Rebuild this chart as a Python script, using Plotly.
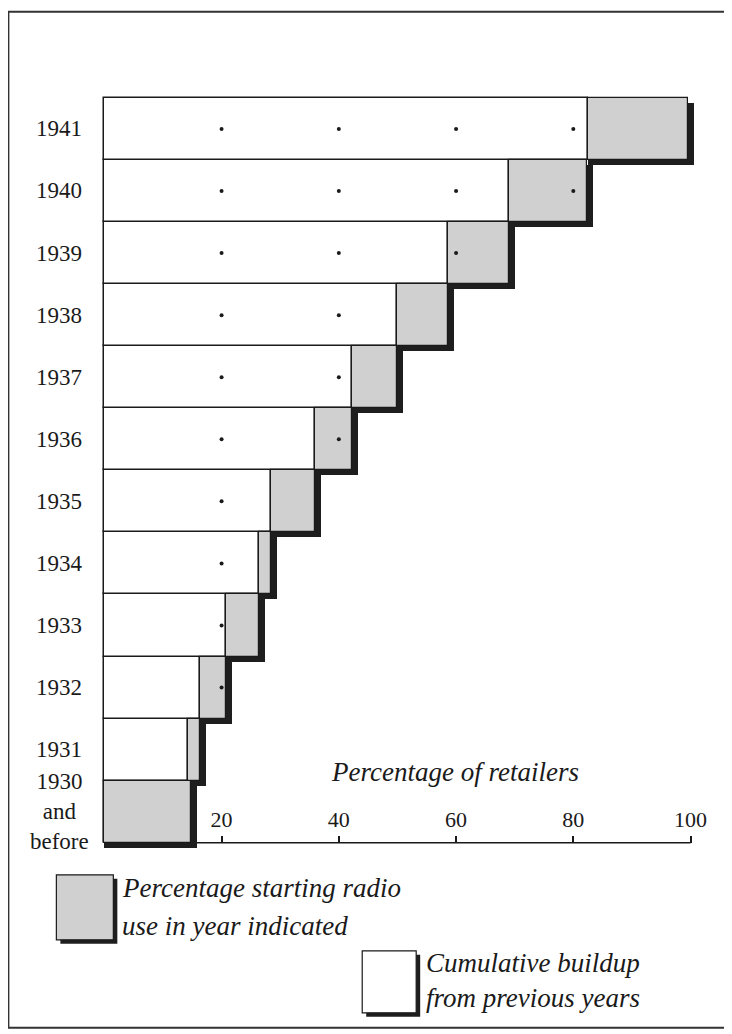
import plotly.graph_objects as go

# years, bottom to top
years = ['1930', '1931', '1932', '1933', '1934', '1935',
         '1936', '1937', '1938', '1939', '1940', '1941']
year_labels = ['1930<br>and<br>before', '1931', '1932', '1933', '1934', '1935',
               '1936', '1937', '1938', '1939', '1940', '1941']
# cumulative share of retailers already using radio before the year (white)
prior = [0, 14.2, 16.3, 20.7, 26.3, 28.5, 35.9, 42.3, 50.0, 58.7, 69.1, 82.5]
# share starting radio use in that year (grey)
new = [14.8, 2.1, 4.4, 5.6, 2.2, 7.4, 6.4, 7.7, 8.7, 10.4, 13.3, 17.0]
grid_ticks = [20, 40, 60, 80]
x_ticks = [20, 40, 60, 80, 100]

# page is shown with the browser's 8px body margin, so work in window pixels
OFF = 8
W, H = 732 - OFF, 1034 - OFF
X0PIX, SCALE = 104, 5.865      # window pixel of x=0, pixels per percent
YTOP, ROW = 98, 62.08          # window pixel of top of 1941 row, row height
XMIN, XMAX = -0.4, 104
YMIN, YMAX = -0.6, 11.53

LEFT = X0PIX + XMIN * SCALE - OFF
RIGHT = W - (X0PIX + XMAX * SCALE - OFF)
TOP = YTOP - (YMAX - 11.5) * ROW - OFF
BOTTOM = H - (YTOP + (11.5 - YMIN) * ROW - OFF)

FONT = 'Liberation Serif'
GREY = '#d0d0d0'
SHADOW = '#1e1e1e'
INK = '#1a1a1a'


def px(x):
    return (x - OFF - LEFT) / (W - LEFT - RIGHT)


def py(y):
    return (H - BOTTOM - (y - OFF)) / (H - TOP - BOTTOM)


shift = 6 / SCALE  # ~6px drop shadow in data units

fig = go.Figure()

fig.add_trace(go.Bar(
    y=years, x=[n + shift for n in new], base=prior, orientation='h',
    width=1, offset=-0.58, marker=dict(color=SHADOW, line=dict(width=0)),
    hoverinfo='skip', showlegend=False,
))
fig.add_trace(go.Bar(
    y=years, x=prior, base=0, orientation='h', width=1,
    marker=dict(color='white', line=dict(color=INK, width=1.5)),
    showlegend=False,
))
fig.add_trace(go.Bar(
    y=years, x=new, base=prior, orientation='h', width=1,
    marker=dict(color=GREY, line=dict(color=INK, width=1.2)),
    showlegend=False,
))

# dotted grid points inside the bars
dot_x, dot_y = [], []
for yr, p, n in zip(years, prior, new):
    for t in grid_ticks:
        if p + n >= t:
            dot_x.append(t)
            dot_y.append(yr)
fig.add_trace(go.Scatter(
    x=dot_x, y=dot_y, mode='markers',
    marker=dict(size=4, color=INK), hoverinfo='skip', showlegend=False,
))

# year labels, centred like the original
for i, lab in enumerate(year_labels):
    fig.add_annotation(
        x=px(59), xref='paper', y=i, yref='y', text=lab, showarrow=False,
        xanchor='center', yanchor='middle', align='center',
        font=dict(family=FONT, size=23, color=INK),
    )

fig.add_annotation(
    x=px(455), y=py(772), xref='paper', yref='paper',
    text='<i>Percentage of retailers</i>', showarrow=False,
    xanchor='center', yanchor='middle',
    font=dict(family=FONT, size=27, color=INK),
)

# axis baseline
fig.add_shape(type='line', x0=0, x1=100, y0=-0.5, y1=-0.5, xref='x', yref='y',
              line=dict(color=INK, width=1.5), layer='below')


# legend keys
def key_box(x0, y0, x1, y1, fill):
    fig.add_shape(type='rect', xref='paper', yref='paper',
                  x0=px(x0 + 4), x1=px(x1 + 4), y0=py(y0 + 4), y1=py(y1 + 4),
                  fillcolor=SHADOW, line=dict(width=0))
    fig.add_shape(type='rect', xref='paper', yref='paper',
                  x0=px(x0), x1=px(x1), y0=py(y0), y1=py(y1),
                  fillcolor=fill, line=dict(color=INK, width=1.2))


key_box(56, 875, 113, 940, GREY)
key_box(362, 951, 416, 1013, 'white')

legend_text = [
    (120, 888, 'Percentage starting radio'),
    (120, 926, 'use in year indicated'),
    (424, 963, 'Cumulative buildup'),
    (424, 998, 'from previous years'),
]
for x, y, t in legend_text:
    fig.add_annotation(
        x=px(x), y=py(y), xref='paper', yref='paper', text=f'<i>{t}</i>',
        showarrow=False, xanchor='left', yanchor='middle',
        font=dict(family=FONT, size=27, color=INK),
    )

# outer frame
fig.add_shape(type='rect', xref='paper', yref='paper',
              x0=px(8), x1=px(728), y0=py(12), y1=py(1028),
              line=dict(color='#333333', width=2))

fig.update_layout(
    width=W, height=H,
    margin=dict(l=LEFT, r=RIGHT, t=TOP, b=BOTTOM, autoexpand=False),
    paper_bgcolor='white', plot_bgcolor='rgba(0,0,0,0)',
    barmode='overlay', bargap=0,
    font=dict(family=FONT, color=INK),
    xaxis=dict(
        range=[XMIN, XMAX], tickvals=x_ticks, ticktext=[str(t) for t in x_ticks],
        ticks='inside', ticklen=7, tickwidth=1.5, tickcolor=INK,
        ticklabelposition='inside', ticklabelstandoff=6,
        tickfont=dict(family=FONT, size=22, color=INK),
        showgrid=False, zeroline=False, showline=False,
        anchor='free', position=0.1 / (YMAX - YMIN),
    ),
    yaxis=dict(
        range=[YMIN, YMAX], type='category', categoryorder='array',
        categoryarray=years, showticklabels=False, showgrid=False,
        zeroline=False, showline=False, ticks='',
    ),
)

fig.write_html('out.html')
